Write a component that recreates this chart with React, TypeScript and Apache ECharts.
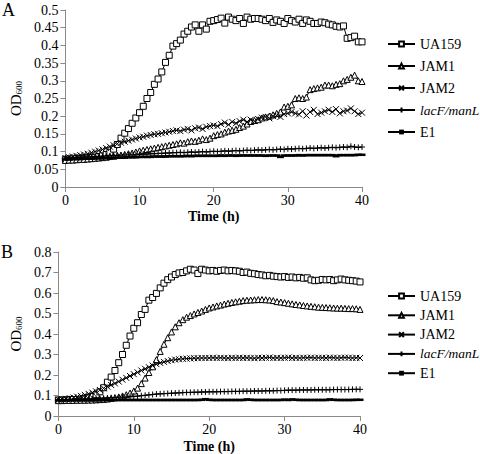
import React, { useEffect, useRef } from "react";
import * as echarts from "echarts";

const SERIES_NAMES = ["UA159", "JAM1", "JAM2", "lacF/manL", "E1"];

const TIME = [
  0, 0.5, 1, 1.5, 2, 2.5, 3, 3.5, 4, 4.5,
  5, 5.5, 6, 6.5, 7, 7.5, 8, 8.5, 9, 9.5,
  10, 10.5, 11, 11.5, 12, 12.5, 13, 13.5, 14, 14.5,
  15, 15.5, 16, 16.5, 17, 17.5, 18, 18.5, 19, 19.5,
  20, 20.5, 21, 21.5, 22, 22.5, 23, 23.5, 24, 24.5,
  25, 25.5, 26, 26.5, 27, 27.5, 28, 28.5, 29, 29.5,
  30, 30.5, 31, 31.5, 32, 32.5, 33, 33.5, 34, 34.5,
  35, 35.5, 36, 36.5, 37, 37.5, 38, 38.5, 39, 39.5,
  40,
];

// ---------- Panel A ----------
const A_UA159 = [
  0.078, 0.079, 0.079, 0.080, 0.080, 0.081, 0.082, 0.083, 0.084, 0.086,
  0.088, 0.092, 0.098, 0.107, 0.120, 0.138, 0.152, 0.165, 0.180, 0.195,
  0.210, 0.228, 0.250, 0.267, 0.290, 0.305, 0.325, 0.352, 0.372, 0.398,
  0.405, 0.415, 0.432, 0.440, 0.452, 0.458, 0.440, 0.458, 0.446, 0.468,
  0.470, 0.473, 0.477, 0.463, 0.480, 0.474, 0.470, 0.476, 0.462, 0.480,
  0.474, 0.476, 0.476, 0.474, 0.470, 0.476, 0.465, 0.472, 0.468, 0.462,
  0.476, 0.470, 0.466, 0.474, 0.462, 0.472, 0.468, 0.462, 0.462, 0.466,
  0.464, 0.460, 0.458, 0.454, 0.452, 0.455, 0.420, 0.422, 0.426, 0.410,
  0.410,
];
const A_JAM1 = [
  0.075, 0.076, 0.076, 0.077, 0.078, 0.078, 0.079, 0.080, 0.081, 0.082,
  0.083, 0.084, 0.086, 0.087, 0.089, 0.090, 0.092, 0.094, 0.096, 0.099,
  0.102, 0.104, 0.106, 0.108, 0.110, 0.112, 0.114, 0.116, 0.118, 0.120,
  0.122, 0.125, 0.124, 0.128, 0.130, 0.129, 0.132, 0.136, 0.134, 0.138,
  0.145, 0.148, 0.150, 0.155, 0.158, 0.160, 0.163, 0.168, 0.172, 0.178,
  0.185, 0.188, 0.190, 0.195, 0.198, 0.200, 0.204, 0.208, 0.212, 0.226,
  0.228, 0.232, 0.250, 0.252, 0.250, 0.254, 0.275, 0.278, 0.280, 0.282,
  0.288, 0.288, 0.286, 0.290, 0.292, 0.300, 0.304, 0.310, 0.316, 0.300,
  0.298,
];
const A_JAM2 = [
  0.082, 0.084, 0.086, 0.088, 0.090, 0.092, 0.094, 0.097, 0.100, 0.103,
  0.106, 0.110, 0.114, 0.118, 0.122, 0.125, 0.128, 0.131, 0.134, 0.137,
  0.140, 0.142, 0.145, 0.147, 0.149, 0.150, 0.152, 0.154, 0.156, 0.158,
  0.160, 0.158, 0.162, 0.164, 0.160, 0.166, 0.168, 0.164, 0.170, 0.172,
  0.174, 0.172, 0.178, 0.182, 0.176, 0.184, 0.180, 0.186, 0.190, 0.184,
  0.190, 0.186, 0.192, 0.196, 0.198, 0.194, 0.200, 0.202, 0.198, 0.206,
  0.208, 0.212, 0.208, 0.205, 0.214, 0.202, 0.212, 0.218, 0.206, 0.210,
  0.214, 0.218, 0.212, 0.220, 0.208, 0.214, 0.216, 0.222, 0.214, 0.206,
  0.210,
];
const A_LACF = [
  0.082, 0.083, 0.083, 0.084, 0.084, 0.085, 0.085, 0.086, 0.086, 0.087,
  0.087, 0.088, 0.088, 0.089, 0.089, 0.090, 0.090, 0.091, 0.091, 0.092,
  0.092, 0.093, 0.093, 0.094, 0.094, 0.095, 0.095, 0.096, 0.096, 0.097,
  0.097, 0.098, 0.097, 0.098, 0.099, 0.098, 0.099, 0.100, 0.099, 0.100,
  0.101, 0.100, 0.101, 0.102, 0.101, 0.102, 0.103, 0.102, 0.103, 0.104,
  0.103, 0.104, 0.105, 0.104, 0.105, 0.106, 0.105, 0.106, 0.107, 0.106,
  0.108, 0.107, 0.108, 0.109, 0.108, 0.109, 0.110, 0.109, 0.110, 0.111,
  0.110, 0.111, 0.112, 0.111, 0.112, 0.113, 0.112, 0.115, 0.113, 0.112,
  0.113,
];
const A_E1 = [
  0.078, 0.078, 0.079, 0.079, 0.079, 0.080, 0.080, 0.080, 0.081, 0.081,
  0.081, 0.082, 0.082, 0.082, 0.083, 0.083, 0.083, 0.084, 0.084, 0.084,
  0.085, 0.085, 0.085, 0.085, 0.086, 0.086, 0.086, 0.086, 0.087, 0.087,
  0.087, 0.087, 0.087, 0.088, 0.087, 0.088, 0.088, 0.088, 0.088, 0.088,
  0.088, 0.088, 0.089, 0.088, 0.089, 0.089, 0.088, 0.089, 0.089, 0.089,
  0.089, 0.089, 0.089, 0.089, 0.088, 0.089, 0.089, 0.089, 0.085, 0.089,
  0.089, 0.089, 0.089, 0.090, 0.089, 0.090, 0.090, 0.090, 0.090, 0.090,
  0.090, 0.090, 0.090, 0.087, 0.090, 0.090, 0.090, 0.090, 0.090, 0.091,
  0.091,
];

// ---------- Panel B ----------
const B_UA159 = [
  0.078, 0.078, 0.079, 0.080, 0.080, 0.081, 0.082, 0.084, 0.088, 0.095,
  0.104, 0.118, 0.138, 0.165, 0.190, 0.222, 0.260, 0.300, 0.345, 0.390,
  0.428, 0.455, 0.495, 0.520, 0.565, 0.578, 0.598, 0.625, 0.648, 0.665,
  0.678, 0.690, 0.698, 0.700, 0.708, 0.716, 0.712, 0.695, 0.716, 0.712,
  0.708, 0.710, 0.706, 0.710, 0.712, 0.708, 0.710, 0.708, 0.706, 0.700,
  0.702, 0.696, 0.694, 0.690, 0.688, 0.684, 0.686, 0.682, 0.680, 0.678,
  0.680, 0.676, 0.678, 0.674, 0.676, 0.672, 0.674, 0.664, 0.660, 0.662,
  0.666, 0.664, 0.666, 0.660, 0.664, 0.668, 0.664, 0.662, 0.660, 0.658,
  0.654,
];
const B_JAM1 = [
  0.075, 0.075, 0.076, 0.076, 0.076, 0.077, 0.077, 0.077, 0.078, 0.078,
  0.079, 0.080, 0.081, 0.083, 0.086, 0.089, 0.093, 0.098, 0.104, 0.112,
  0.122, 0.136, 0.158, 0.185, 0.212, 0.240, 0.275, 0.315, 0.350, 0.382,
  0.410, 0.435, 0.455, 0.470, 0.482, 0.490, 0.498, 0.505, 0.512, 0.520,
  0.527, 0.532, 0.537, 0.541, 0.546, 0.550, 0.554, 0.557, 0.560, 0.563,
  0.565, 0.566, 0.567, 0.568, 0.568, 0.567, 0.566, 0.563, 0.558, 0.556,
  0.553, 0.550, 0.547, 0.544, 0.542, 0.539, 0.537, 0.535, 0.533, 0.531,
  0.530, 0.529, 0.528, 0.527, 0.526, 0.526, 0.525, 0.524, 0.524, 0.523,
  0.520,
];
const B_JAM2 = [
  0.080, 0.082, 0.084, 0.087, 0.090, 0.094, 0.098, 0.103, 0.108, 0.114,
  0.120, 0.127, 0.135, 0.143, 0.151, 0.159, 0.168, 0.177, 0.186, 0.195,
  0.204, 0.213, 0.222, 0.230, 0.238, 0.246, 0.253, 0.259, 0.264, 0.268,
  0.272, 0.275, 0.277, 0.279, 0.280, 0.281, 0.282, 0.282, 0.283, 0.283,
  0.283, 0.284, 0.283, 0.284, 0.283, 0.282, 0.284, 0.283, 0.284, 0.283,
  0.284, 0.283, 0.282, 0.284, 0.283, 0.284, 0.285, 0.283, 0.284, 0.283,
  0.284, 0.285, 0.283, 0.284, 0.283, 0.284, 0.284, 0.285, 0.283, 0.284,
  0.284, 0.283, 0.285, 0.284, 0.283, 0.284, 0.285, 0.284, 0.283, 0.284,
  0.283,
];
const B_LACF = [
  0.080, 0.080, 0.081, 0.081, 0.082, 0.082, 0.083, 0.083, 0.084, 0.084,
  0.085, 0.086, 0.087, 0.088, 0.089, 0.090, 0.091, 0.092, 0.093, 0.094,
  0.095, 0.097, 0.099, 0.101, 0.103, 0.105, 0.107, 0.108, 0.109, 0.110,
  0.111, 0.112, 0.113, 0.114, 0.115, 0.115, 0.116, 0.116, 0.117, 0.117,
  0.118, 0.118, 0.118, 0.119, 0.119, 0.119, 0.120, 0.120, 0.120, 0.121,
  0.121, 0.121, 0.122, 0.122, 0.122, 0.123, 0.123, 0.123, 0.124, 0.124,
  0.125, 0.126, 0.126, 0.126, 0.127, 0.127, 0.127, 0.127, 0.128, 0.128,
  0.128, 0.128, 0.128, 0.129, 0.129, 0.129, 0.129, 0.129, 0.130, 0.130,
  0.130,
];
const B_E1 = [
  0.076, 0.076, 0.076, 0.077, 0.077, 0.077, 0.077, 0.077, 0.077, 0.077,
  0.077, 0.077, 0.078, 0.078, 0.078, 0.078, 0.078, 0.078, 0.078, 0.078,
  0.078, 0.078, 0.078, 0.078, 0.078, 0.078, 0.078, 0.078, 0.078, 0.078,
  0.078, 0.078, 0.078, 0.078, 0.078, 0.078, 0.078, 0.078, 0.079, 0.082,
  0.079, 0.078, 0.078, 0.078, 0.078, 0.078, 0.078, 0.078, 0.078, 0.078,
  0.081, 0.079, 0.078, 0.078, 0.078, 0.078, 0.078, 0.078, 0.078, 0.078,
  0.080, 0.078, 0.081, 0.079, 0.078, 0.078, 0.078, 0.078, 0.078, 0.078,
  0.078, 0.078, 0.081, 0.079, 0.078, 0.078, 0.078, 0.078, 0.078, 0.079,
  0.079,
];

const Y_A_TICKS = { min: 0, max: 0.5, interval: 0.05 };
const Y_B_TICKS = { min: 0, max: 0.8, interval: 0.1 };
const X_TICKS = { min: 0, max: 40, interval: 10 };

const FONT = "Liberation Serif";
const AXIS_GRAY = "#8a8a8a";

const MARKERS: Record<string, any> = {
  UA159: {
    symbol: "rect",
    itemStyle: { color: "#fff", borderColor: "#000", borderWidth: 1 },
  },
  JAM1: {
    symbol: "triangle",
    itemStyle: { color: "#fff", borderColor: "#000", borderWidth: 1 },
  },
  JAM2: {
    symbol: "path://M0,0L10,10M10,0L0,10",
    itemStyle: { color: "rgba(0,0,0,0)", borderColor: "#000", borderWidth: 1 },
  },
  "lacF/manL": {
    symbol: "path://M5,0L5,10M0,5L10,5",
    itemStyle: { color: "rgba(0,0,0,0)", borderColor: "#000", borderWidth: 1 },
  },
  E1: {
    symbol: "rect",
    itemStyle: { color: "#000", borderColor: "#000", borderWidth: 0 },
  },
};

const TXT = { fontFamily: FONT, fontSize: 14, color: "#000" };

function pairs(ys: number[]) {
  return TIME.map((t, i) => [t, ys[i]]);
}

function makeSeries(name: string, ys: number[], idx: number) {
  const m = MARKERS[name];
  const size = name === "E1" ? [7, 2.5] : 6;
  return {
    name,
    type: "line",
    xAxisIndex: idx,
    yAxisIndex: idx,
    data: pairs(ys),
    symbol: m.symbol,
    symbolSize: size,
    showSymbol: true,
    itemStyle: m.itemStyle,
    lineStyle: { color: "#000", width: 1 },
    emphasis: { disabled: true },
  };
}

function xAxis(gridIndex: number, nameGap: number) {
  return {
    type: "value",
    gridIndex,
    ...X_TICKS,
    axisLine: { show: true, lineStyle: { color: AXIS_GRAY, width: 1 } },
    axisTick: { show: true, length: 5, lineStyle: { color: AXIS_GRAY } },
    splitLine: { show: false },
    axisLabel: { ...TXT, margin: 6 },
    name: "Time (h)",
    nameLocation: "middle",
    nameGap,
    nameTextStyle: { ...TXT, fontWeight: "bold" },
  };
}

function yAxis(gridIndex: number, ticks: any, nameGap: number) {
  return {
    type: "value",
    gridIndex,
    ...ticks,
    axisLine: { show: true, lineStyle: { color: AXIS_GRAY, width: 1 } },
    axisTick: { show: true, length: 5, lineStyle: { color: AXIS_GRAY } },
    splitLine: { show: false },
    axisLabel: {
      ...TXT,
      margin: 7,
      formatter: (v: number) => String(parseFloat(v.toFixed(2))),
    },
    name: "{a|OD}{b|600}",
    nameLocation: "middle",
    nameRotate: 90,
    nameGap,
    nameTextStyle: {
      color: "#000",
      fontFamily: FONT,
      fontSize: 15,
      rich: {
        a: { fontFamily: FONT, fontSize: 15, color: "#000", verticalAlign: "bottom", lineHeight: 18 },
        b: { fontFamily: FONT, fontSize: 9, color: "#000", verticalAlign: "bottom", lineHeight: 14 },
      },
    },
  };
}

function legend(left: number, top: number, gap: number) {
  return {
    orient: "vertical",
    left,
    top,
    itemWidth: 27,
    itemHeight: 6,
    itemGap: gap,
    data: SERIES_NAMES,
    selectedMode: false,
    formatter: (n: string) => (n === "lacF/manL" ? "{i|" + n + "}" : n),
    textStyle: {
      ...TXT,
      lineHeight: 14,
      rich: {
        i: { ...TXT, fontSize: 13.5, fontStyle: "italic", lineHeight: 14 },
      },
    },
  };
}

export default function App() {
  const ref = useRef<HTMLDivElement>(null);
  useEffect(() => {
    if (!ref.current) return;
    const chart = echarts.init(ref.current, null, { renderer: "svg" });
    const aData = [A_UA159, A_JAM1, A_JAM2, A_LACF, A_E1];
    const bData = [B_UA159, B_JAM1, B_JAM2, B_LACF, B_E1];
    chart.setOption({
      animation: false,
      backgroundColor: "#fff",
      textStyle: { fontFamily: FONT },
      grid: [
        { left: 54, top: 10, width: 308, height: 177 },
        { left: 51, top: 252, width: 309, height: 164 },
      ],
      xAxis: [xAxis(0, 22), xAxis(1, 23)],
      yAxis: [yAxis(0, Y_A_TICKS, 38), yAxis(1, Y_B_TICKS, 35)],
      legend: [legend(382, 32, 8), legend(382, 284, 5.3)],
      graphic: [
        { type: "text", left: 2, top: 1, style: { text: "A", fontFamily: FONT, fontSize: 18, fill: "#000" } },
        { type: "text", left: 1, top: 243, style: { text: "B", fontFamily: FONT, fontSize: 18, fill: "#000" } },
      ],
      series: [
        ...SERIES_NAMES.map((n, i) => makeSeries(n, aData[i], 0)),
        ...SERIES_NAMES.map((n, i) => makeSeries(n, bData[i], 1)),
      ],
    });
    return () => chart.dispose();
  }, []);
  return <div ref={ref} style={{ width: 480, height: 454, position: "absolute", left: 0, top: 0 }} />;
}
